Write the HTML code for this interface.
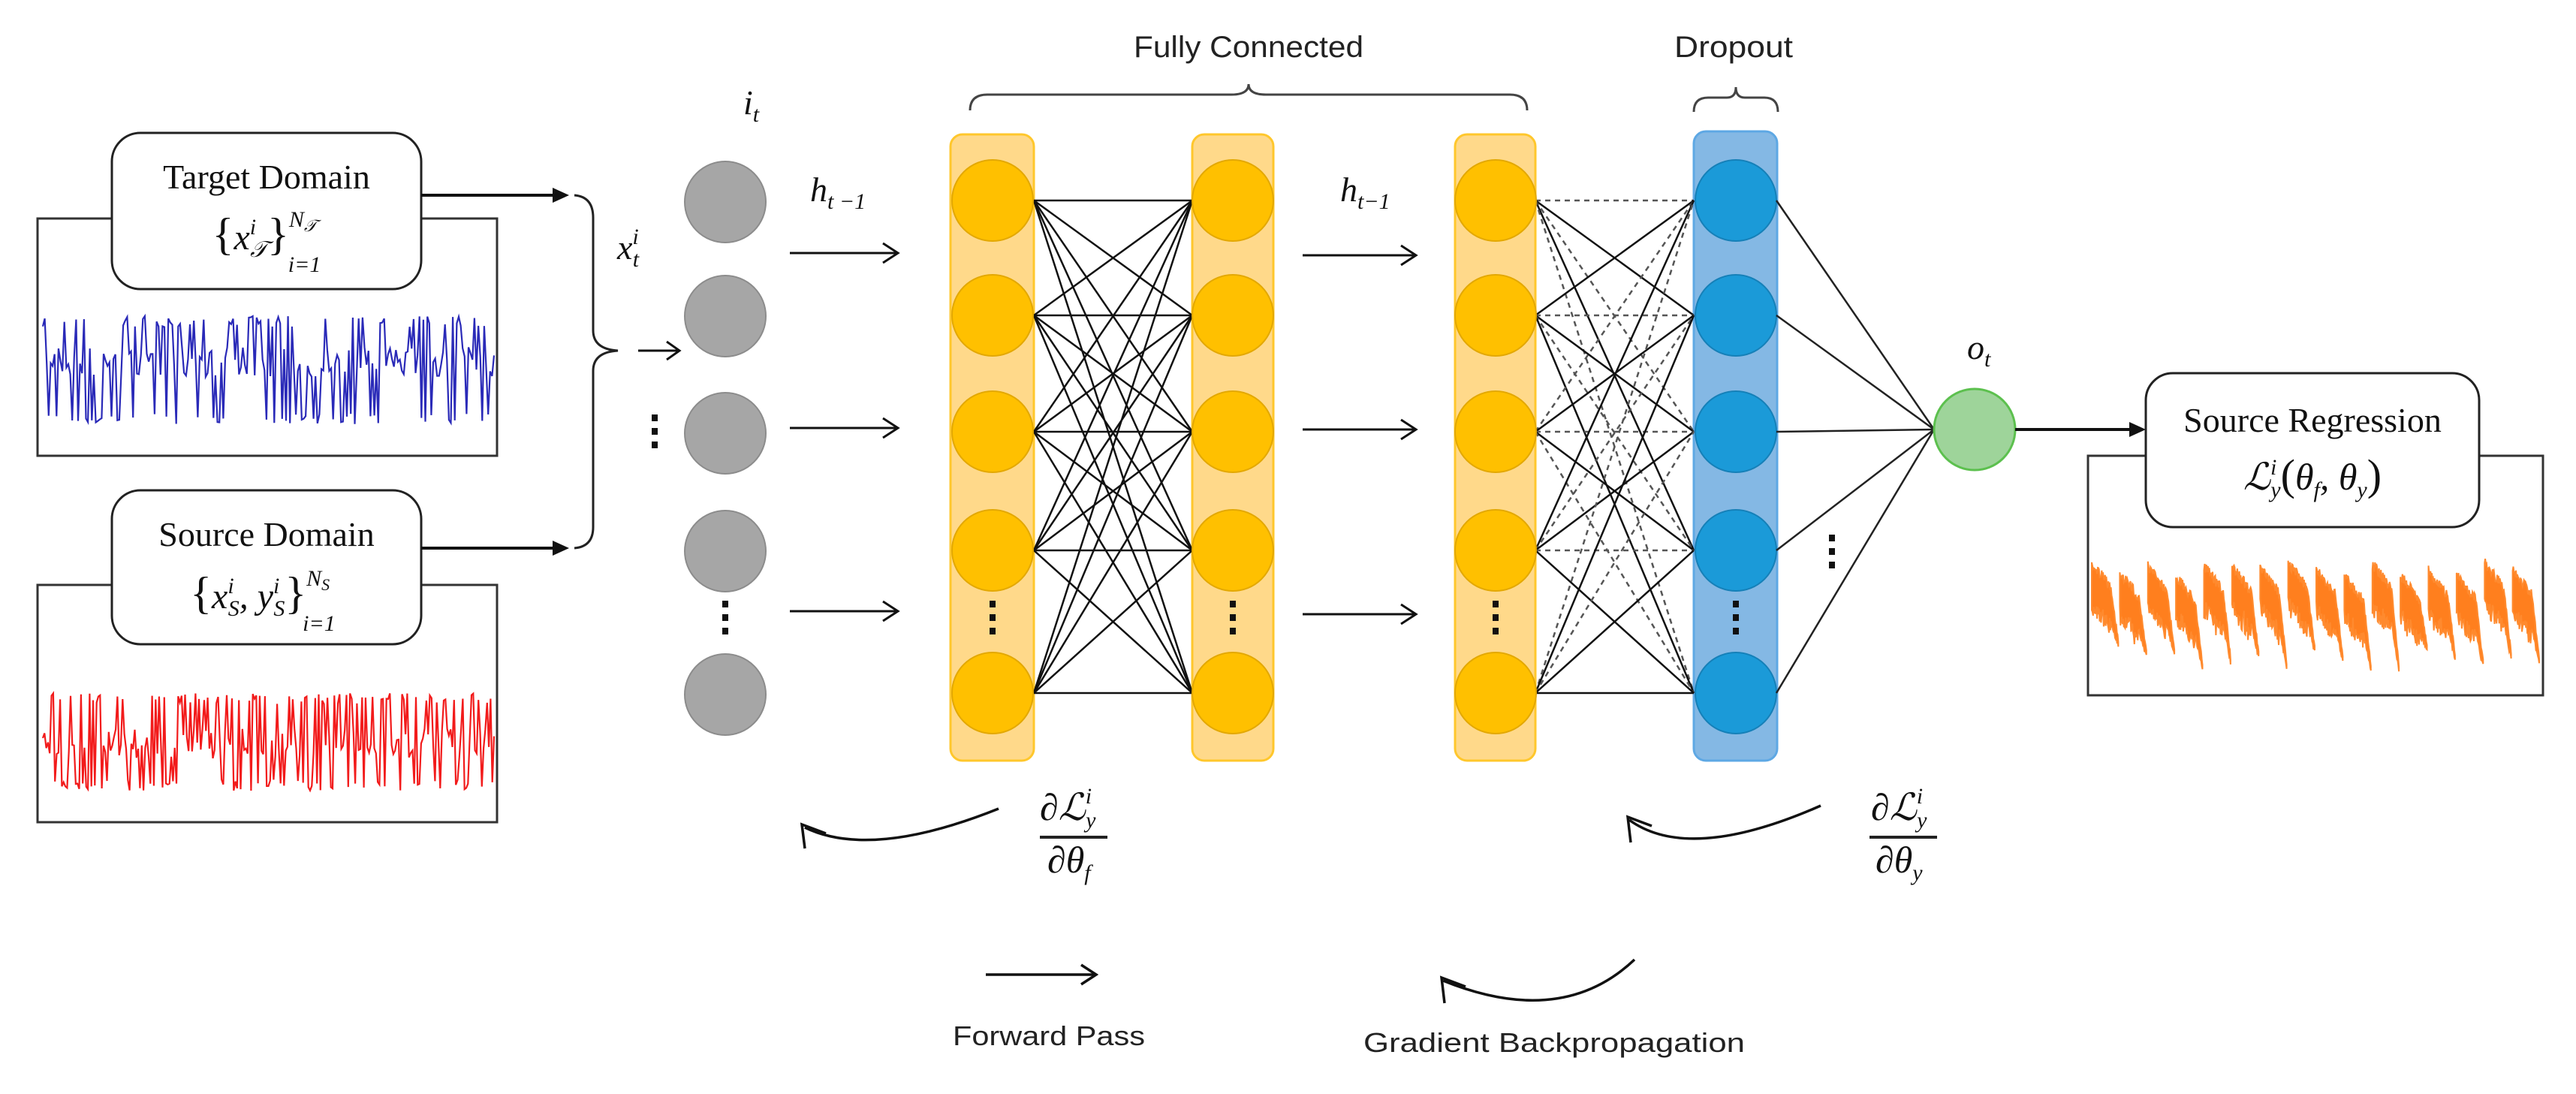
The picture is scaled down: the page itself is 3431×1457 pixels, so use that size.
<!DOCTYPE html>
<html><head><meta charset="utf-8"><style>
html,body{margin:0;padding:0;background:#fff;}
svg{display:block;}
.ser{font-family:"Liberation Serif",serif;}
.it{font-family:"Liberation Serif","DejaVu Serif",serif;font-style:italic;}
.sans{font-family:"Liberation Sans",sans-serif;}
</style></head><body>
<svg id="s" width="3431" height="1457" viewBox="0 0 3431 1457" xmlns="http://www.w3.org/2000/svg">
<rect width="3431" height="1457" fill="#fff"/>

<!-- left outer rects -->
<rect x="50" y="291" width="612" height="316" fill="#fff" stroke="#333" stroke-width="3"/>
<rect x="50" y="779" width="612" height="316" fill="#fff" stroke="#333" stroke-width="3"/>
<g id="sig"></g>
<rect x="149" y="177" width="412" height="208" rx="38" fill="#fff" stroke="#222" stroke-width="3"/>
<rect x="149" y="653" width="412" height="205" rx="38" fill="#fff" stroke="#222" stroke-width="3"/>
<text x="355" y="251" class="ser" font-size="46" text-anchor="middle" fill="#111">Target Domain</text>
<text x="355" y="332" class="it" font-size="48" text-anchor="middle" fill="#111"><tspan font-style="normal" font-size="60">{</tspan>x<tspan font-size="30" dy="-20">i</tspan><tspan font-size="30" dx="-8" dy="30">𝒯</tspan><tspan font-style="normal" font-size="60" dy="-10">}</tspan><tspan font-size="30" dy="-30">N</tspan><tspan font-size="22" dy="6">𝒯</tspan><tspan font-size="30" dx="-38" dy="54">i=1</tspan></text>
<text x="355" y="727" class="ser" font-size="46" text-anchor="middle" fill="#111">Source Domain</text>
<text x="350" y="810" class="it" font-size="48" text-anchor="middle" fill="#111"><tspan font-style="normal" font-size="60">{</tspan>x<tspan font-size="30" dy="-20">i</tspan><tspan font-size="30" dx="-8" dy="30">S</tspan><tspan dy="-10">, y</tspan><tspan font-size="30" dy="-20">i</tspan><tspan font-size="30" dx="-8" dy="30">S</tspan><tspan font-style="normal" font-size="60" dy="-10">}</tspan><tspan font-size="30" dy="-30">N</tspan><tspan font-size="22" dy="6">S</tspan><tspan font-size="30" dx="-36" dy="54">i=1</tspan></text>

<!-- arrows from boxes -->
<line x1="561" y1="260" x2="740" y2="260" stroke="#111" stroke-width="4"/>
<polygon points="758,260 736,250 736,270" fill="#111"/>
<line x1="561" y1="730" x2="740" y2="730" stroke="#111" stroke-width="4"/>
<polygon points="758,730 736,720 736,740" fill="#111"/>
<path d="M765,260 Q790,262 790,290 L790,440 Q790,465 823,467 Q790,469 790,494 L790,702 Q790,728 765,730" fill="none" stroke="#222" stroke-width="3"/>
<text x="822" y="345" class="it" font-size="46" fill="#111">x<tspan font-size="30" dy="-20">i</tspan><tspan font-size="30" dx="-8" dy="30">t</tspan></text>
<line x1="850" y1="467" x2="905" y2="467" stroke="#111" stroke-width="3"/>
<polyline points="888,455 905,467 888,479" fill="none" stroke="#111" stroke-width="3"/>

<!-- gray input nodes -->
<g fill="#A6A6A6" stroke="#8C8C8C" stroke-width="2">
<circle cx="966" cy="269" r="54"/><circle cx="966" cy="421" r="54"/><circle cx="966" cy="577" r="54"/><circle cx="966" cy="734" r="54"/><circle cx="966" cy="925" r="54"/>
</g>
<text x="990" y="152" class="it" font-size="46" fill="#111">i<tspan font-size="30" dy="10">t</tspan></text>
<g fill="#111"><rect x="868" y="552" width="8" height="9"/><rect x="868" y="570" width="8" height="9"/><rect x="868" y="588" width="8" height="9"/>
<rect x="962" y="800" width="8" height="9"/><rect x="962" y="818" width="8" height="9"/><rect x="962" y="836" width="8" height="9"/></g>

<text x="1079" y="268" class="it" font-size="46" fill="#111">h<tspan font-size="30" dy="10">t −1</tspan></text>
<text x="1785" y="268" class="it" font-size="46" fill="#111">h<tspan font-size="30" dy="10">t−1</tspan></text>
<g stroke="#111" stroke-width="3" fill="none">
<line x1="1052" y1="337" x2="1196" y2="337"/><polyline points="1176,324 1196,337 1176,350"/>
<line x1="1052" y1="570" x2="1196" y2="570"/><polyline points="1176,557 1196,570 1176,583"/>
<line x1="1052" y1="814" x2="1196" y2="814"/><polyline points="1176,801 1196,814 1176,827"/>
<line x1="1735" y1="340" x2="1886" y2="340"/><polyline points="1866,327 1886,340 1866,353"/>
<line x1="1735" y1="572" x2="1886" y2="572"/><polyline points="1866,559 1886,572 1866,585"/>
<line x1="1735" y1="818" x2="1886" y2="818"/><polyline points="1866,805 1886,818 1866,831"/>
</g>

<!-- braces & labels -->
<text x="1663" y="76" class="sans" font-size="40" text-anchor="middle" fill="#222" textLength="306" lengthAdjust="spacingAndGlyphs">Fully Connected</text>
<path d="M1292,147 Q1292,126 1315,126 L1640,126 Q1663,126 1663,112 Q1663,126 1686,126 L2011,126 Q2034,126 2034,147" fill="none" stroke="#444" stroke-width="3"/>
<text x="2309" y="76" class="sans" font-size="40" text-anchor="middle" fill="#222" textLength="158" lengthAdjust="spacingAndGlyphs">Dropout</text>
<path d="M2256,149 Q2256,130 2275,130 L2300,130 Q2312,130 2312,116 Q2312,130 2324,130 L2350,130 Q2368,130 2368,149" fill="none" stroke="#444" stroke-width="3"/>

<!-- columns -->
<g stroke-width="3">
<rect x="1266" y="179" width="111" height="834" rx="16" fill="#FFD98A" stroke="#FFC72C"/>
<rect x="1588" y="179" width="108" height="834" rx="16" fill="#FFD98A" stroke="#FFC72C"/>
<rect x="1938" y="179" width="107" height="834" rx="16" fill="#FFD98A" stroke="#FFC72C"/>
<rect x="2256" y="175" width="111" height="838" rx="16" fill="#84B8E4" stroke="#5EA8E4"/>
</g>
<g id="conn"></g>
<g id="nodes"></g>

<!-- output -->
<g id="outl" stroke="#222" stroke-width="2.5"></g>
<circle cx="2630" cy="572" r="54" fill="#9ED49A" stroke="#5CC04E" stroke-width="3"/>
<text x="2620" y="478" class="it" font-size="46" fill="#111">o<tspan font-size="30" dy="10">t</tspan></text>
<g fill="#111"><rect x="2436" y="712" width="8" height="9"/><rect x="2436" y="730" width="8" height="9"/><rect x="2436" y="748" width="8" height="9"/></g>
<line x1="2684" y1="572" x2="2838" y2="572" stroke="#111" stroke-width="4"/>
<polygon points="2858,572 2836,562 2836,582" fill="#111"/>

<rect x="2781" y="607" width="606" height="319" fill="#fff" stroke="#333" stroke-width="3"/>
<g id="osig"></g>
<rect x="2858" y="497" width="444" height="205" rx="36" fill="#fff" stroke="#222" stroke-width="3"/>
<text x="3080" y="575" class="ser" font-size="46" text-anchor="middle" fill="#111">Source Regression</text>
<text x="3080" y="652" class="it" font-size="50" text-anchor="middle" fill="#111">ℒ<tspan font-size="30" dy="-20">i</tspan><tspan font-size="30" dx="-8" dy="30">y</tspan><tspan font-style="normal" font-size="58" dy="-10">(</tspan>θ<tspan font-size="30" dy="10">f</tspan><tspan dy="-10">,  θ</tspan><tspan font-size="30" dy="10">y</tspan><tspan font-style="normal" font-size="58" dy="-10">)</tspan></text>

<!-- gradient fractions -->
<g class="it" font-size="50" fill="#111">
<text x="1385" y="1092">∂ℒ<tspan font-size="30" dy="-22">i</tspan><tspan font-size="30" dx="-8" dy="32">y</tspan></text>
<text x="1395" y="1162">∂θ<tspan font-size="30" dy="10">f</tspan></text>
<text x="2492" y="1092">∂ℒ<tspan font-size="30" dy="-22">i</tspan><tspan font-size="30" dx="-8" dy="32">y</tspan></text>
<text x="2498" y="1162">∂θ<tspan font-size="30" dy="10">y</tspan></text>
</g>
<line x1="1385" y1="1115" x2="1475" y2="1115" stroke="#222" stroke-width="4"/>
<line x1="2490" y1="1115" x2="2580" y2="1115" stroke="#222" stroke-width="4"/>
<g stroke="#111" stroke-width="3.5" fill="none">
<path d="M1330,1077 Q1160,1145 1072,1102"/><polyline points="1072,1130 1068,1098 1100,1110"/>
<path d="M2425,1073 Q2250,1150 2170,1092"/><polyline points="2172,1122 2168,1088 2200,1100"/>
<path d="M2177,1278 Q2080,1370 1922,1306"/><polyline points="1924,1336 1920,1302 1952,1314"/>
<line x1="1313" y1="1298" x2="1460" y2="1298"/><polyline points="1440,1285 1460,1298 1440,1311"/>
</g>
<text x="1397" y="1392" class="sans" font-size="36" text-anchor="middle" fill="#222" textLength="256" lengthAdjust="spacingAndGlyphs">Forward Pass</text>
<text x="2070" y="1401" class="sans" font-size="36" text-anchor="middle" fill="#222" textLength="508" lengthAdjust="spacingAndGlyphs">Gradient Backpropagation</text>
</svg>
<script>
(function(){
var NS="http://www.w3.org/2000/svg";
function el(t,a,p){var e=document.createElementNS(NS,t);for(var k in a)e.setAttribute(k,a[k]);p.appendChild(e);return e;}
var seed=7;function r(){seed=(seed*16807)%2147483647;return seed/2147483647;}
var sig=document.getElementById('sig');
function square(x0,x1,yTop,yMid,yBot,color,n){
 var pts=[],x=x0,step=(x1-x0)/n;
 for(var i=0;i<=n;i++){
  var v=r(),y;
  if(v<0.3)y=yTop+r()*15;else if(v<0.6)y=yBot-r()*15;else y=yMid+(r()-0.5)*40;
  pts.push(x.toFixed(1)+","+y.toFixed(1));x+=step;
 }
 el('polyline',{points:pts.join(' '),fill:'none',stroke:color,'stroke-width':2.2},sig);
}
square(57,658,421,482,565,'#2A2AB8',230);
square(57,658,923,990,1053,'#F21B1B',260);
// orange: filled noisy band per cycle
var o=document.getElementById('osig');
var cyc=16,x0=2786,x1=3384,w=(x1-x0)/cyc;
for(var c=0;c<cyc;c++){
 var bot=860+r()*40, top=748+r()*20;
 var up=[],dn=[];
 var N=40;
 for(var k=0;k<=N;k++){
  var t=k/N, xx=x0+c*w+t*(w-2);
  var yt,th;
  if(t<0.72){yt=top+t*45+(r()-0.5)*14; th=45+r()*20;}
  else{var u=(t-0.72)/0.28; yt=top+32+u*(bot-top-40)+(r()-0.5)*8; th=(1-u)*40+6;}
  up.push(xx.toFixed(1)+","+yt.toFixed(1));
  dn.unshift(xx.toFixed(1)+","+(yt+th).toFixed(1));
 }
 el('polygon',{points:up.concat(dn).join(' '),fill:'#FF7F1E',stroke:'#FF8A2E','stroke-width':2},o);
}
// connections
var rows=[267,420,575,733,923];
var cn=document.getElementById('conn');
function full(xa,xb,dash){
 for(var i=0;i<5;i++)for(var j=0;j<5;j++){
  var a={x1:xa,y1:rows[i],x2:xb,y2:rows[j],stroke:'#111','stroke-width':2.5};
  if(dash&&dash[i*5+j]){a['stroke-dasharray']='7,6';a.stroke='#555';}
  el('line',a,cn);
 }
}
full(1377,1588,null);
var ds={0:1,2:1,4:1,6:1,8:1,10:1,12:1,14:1,16:1,18:1,20:1,22:1};
full(2045,2256,ds);
var nd=document.getElementById('nodes');
[[1322,'#FFC000','#E3A800'],[1642,'#FFC000','#E3A800'],[1992,'#FFC000','#E3A800'],[2312,'#1B9AD8','#1580B8']].forEach(function(c){
 rows.forEach(function(y){el('circle',{cx:c[0],cy:y,r:54,fill:c[1],stroke:c[2],'stroke-width':2},nd);});
 [800,818,836].forEach(function(y){el('rect',{x:c[0]-4,y:y,width:8,height:9,fill:'#111'},nd);});
});
var ol=document.getElementById('outl');
rows.forEach(function(y){el('line',{x1:2366,y1:y,x2:2576,y2:572},ol);});
})();
</script>
</body></html>
